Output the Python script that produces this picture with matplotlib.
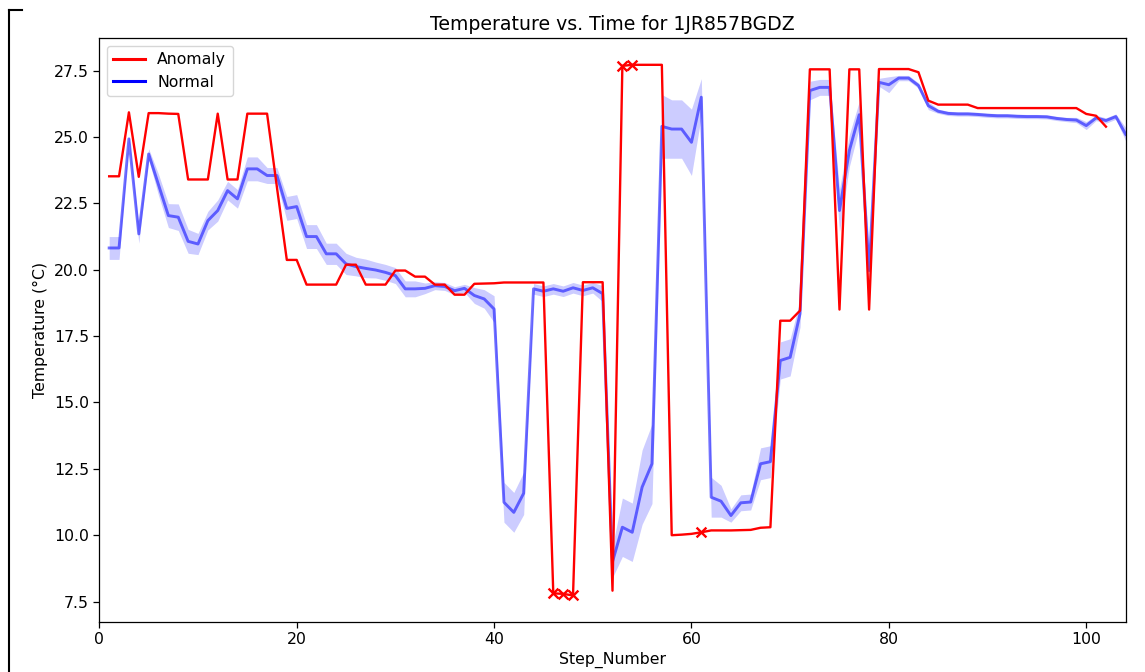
import numpy as np
import matplotlib
matplotlib.use("Agg")
import matplotlib.pyplot as plt
from matplotlib.lines import Line2D

# ---- data -------------------------------------------------------------
normal_steps = list(range(1, 105))
normal_temp = [
    20.82, 20.82, 24.93, 21.35, 24.36, 23.20, 22.04, 21.98, 21.07, 20.97,
    21.85, 22.23, 22.98, 22.67, 23.80, 23.80, 23.55, 23.55, 22.31, 22.38,
    21.25, 21.25, 20.60, 20.60, 20.22, 20.12, 20.05, 19.99, 19.90, 19.78,
    19.28, 19.28, 19.30, 19.40, 19.37, 19.21, 19.30, 19.03, 18.90, 18.52,
    11.24, 10.86, 11.58, 19.28, 19.19, 19.28, 19.19, 19.32, 19.22, 19.32,
    19.10, 9.00, 10.30, 10.11, 11.81, 12.69, 25.40, 25.30, 25.30, 24.80,
    26.50, 11.43, 11.28, 10.74, 11.22, 11.25, 12.69, 12.77, 16.58, 16.70,
    18.34, 26.75, 26.87, 26.87, 22.23, 24.49, 25.84, 19.97, 27.06, 26.97,
    27.22, 27.22, 26.94, 26.18, 25.97, 25.89, 25.87, 25.87, 25.85, 25.82,
    25.80, 25.80, 25.78, 25.77, 25.77, 25.76, 25.70, 25.66, 25.64, 25.43,
    25.72, 25.62, 25.77, 25.10,
]
normal_ci = [
    0.43, 0.43, 0.10, 0.35, 0.20, 0.40, 0.45, 0.50, 0.45, 0.40,
    0.35, 0.40, 0.35, 0.35, 0.45, 0.45, 0.30, 0.30, 0.45, 0.45,
    0.45, 0.45, 0.40, 0.40, 0.40, 0.35, 0.35, 0.30, 0.30, 0.30,
    0.30, 0.30, 0.20, 0.15, 0.15, 0.15, 0.15, 0.30, 0.35, 0.50,
    0.75, 0.75, 0.80, 0.20, 0.20, 0.20, 0.20, 0.20, 0.20, 0.20,
    0.30, 0.60, 1.10, 1.10, 1.40, 1.50, 1.20, 1.10, 1.10, 1.25,
    0.70, 0.75, 0.60, 0.25, 0.30, 0.30, 0.60, 0.60, 0.70, 0.70,
    0.50, 0.35, 0.30, 0.30, 0.80, 0.60, 0.50, 0.80, 0.15, 0.30,
    0.10, 0.10, 0.10, 0.15, 0.08, 0.08, 0.08, 0.08, 0.08, 0.08,
    0.08, 0.08, 0.08, 0.08, 0.08, 0.08, 0.08, 0.08, 0.10, 0.15,
    0.10, 0.10, 0.10, 0.25,
]

anomaly_steps = list(range(1, 103))
anomaly_temp = [
    23.52, 23.52, 25.93, 23.50, 25.90, 25.90, 25.88, 25.87, 23.40, 23.40,
    23.40, 25.88, 23.40, 23.40, 25.88, 25.88, 25.88, 23.10, 20.37, 20.37,
    19.44, 19.44, 19.44, 19.44, 20.19, 20.19, 19.44, 19.44, 19.44, 19.97,
    19.97, 19.74, 19.74, 19.44, 19.44, 19.06, 19.06, 19.47, 19.48, 19.49,
    19.52, 19.52, 19.52, 19.52, 19.52, 7.81, 7.79, 7.73, 19.53, 19.53,
    19.53, 7.91, 27.68, 27.72, 27.72, 27.72, 27.72, 10.00, 10.02, 10.05,
    10.11, 10.18, 10.18, 10.18, 10.19, 10.20, 10.28, 10.30, 18.08, 18.08,
    18.46, 27.55, 27.55, 27.55, 18.50, 27.55, 27.55, 18.50, 27.56, 27.56,
    27.56, 27.56, 27.44, 26.37, 26.22, 26.22, 26.22, 26.22, 26.09, 26.09,
    26.09, 26.09, 26.09, 26.09, 26.09, 26.09, 26.09, 26.09, 26.09, 25.87,
    25.80, 25.39,
]
marked_steps = [46, 47, 48, 53, 54, 61]

title = "Temperature vs. Time for 1JR857BGDZ"

# ---- figure -----------------------------------------------------------
plt.rcParams["font.size"] = 11.3
W, H = 1145, 672
fig = plt.figure(figsize=(W / 100, H / 100), dpi=100)
ax = fig.add_axes([99.3 / W, 1 - 622 / H, (1125.7 - 99.3) / W, (622 - 38) / H])

ns = np.array(normal_steps)
nt = np.array(normal_temp)
nc = np.array(normal_ci)
ax.fill_between(ns, nt - nc, nt + nc, color="blue", alpha=0.2, linewidth=0)
ax.plot(ns, nt, color="blue", alpha=0.55, linewidth=2.1)

ax.plot(anomaly_steps, anomaly_temp, color="red", linewidth=1.7)
mk_vals = [anomaly_temp[anomaly_steps.index(s)] for s in marked_steps]
ax.scatter(marked_steps, mk_vals, marker="x", color="red", s=50, linewidths=1.7, zorder=5)

ax.set_xlim(0, 104)
ax.set_ylim(6.73, 28.73)
ax.set_yticks(np.arange(7.5, 28.0, 2.5))
ax.tick_params(labelsize=11.3, length=4, width=0.9)
for sp in ax.spines.values():
    sp.set_linewidth(0.9)
ax.set_title(title, fontsize=13.6, pad=6)
ax.set_xlabel("Step_Number", fontsize=11.3, labelpad=3)
ax.set_ylabel("Temperature (°C)", fontsize=11.3)

handles = [Line2D([0], [0], color="red", lw=2.2),
           Line2D([0], [0], color="blue", lw=2.2)]
ax.legend(handles, ["Anomaly", "Normal"], loc="upper left", fontsize=11.3)

# screenshot frame remnants
fig.add_artist(Line2D([8.5 / W, 8.5 / W], [0, 1 - 9.5 / H], color="black", lw=1.5,
                      transform=fig.transFigure))
fig.add_artist(Line2D([8.5 / W, 22 / W], [1 - 9.5 / H, 1 - 9.5 / H], color="black", lw=1.5,
                      transform=fig.transFigure))

fig.savefig("out.png", dpi=100)
